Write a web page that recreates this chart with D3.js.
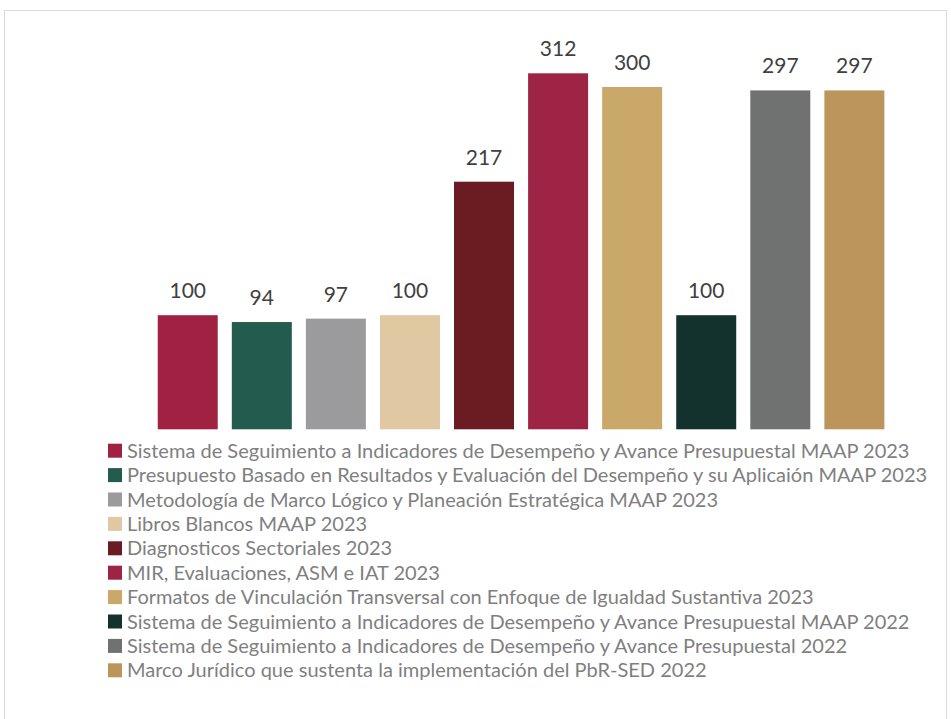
<!DOCTYPE html>
<html><head><meta charset="utf-8">
<script src="https://cdn.jsdelivr.net/npm/d3@7"></script>
<style>body{margin:0;background:#fff;}svg{display:block;}</style>
</head><body>
<script>
const categories = [
  "Sistema de Seguimiento a Indicadores de Desempeño y Avance Presupuestal MAAP 2023",
  "Presupuesto Basado en Resultados y Evaluación del Desempeño y su Aplicaión MAAP 2023",
  "Metodología de Marco Lógico y Planeación Estratégica MAAP 2023",
  "Libros Blancos MAAP 2023",
  "Diagnosticos Sectoriales 2023",
  "MIR, Evaluaciones, ASM e IAT 2023",
  "Formatos de Vinculación Transversal con Enfoque de Igualdad Sustantiva 2023",
  "Sistema de Seguimiento a Indicadores de Desempeño y Avance Presupuestal MAAP 2022",
  "Sistema de Seguimiento a Indicadores de Desempeño y Avance Presupuestal 2022",
  "Marco Jurídico que sustenta la implementación del PbR-SED 2022"
];
const values = [100, 94, 97, 100, 217, 312, 300, 100, 297, 297];
const colors = ["#A02142","#235B4E","#9B9B9D","#DFC8A2","#6A1C22","#9D2445","#C9A86A","#13322E","#6F7271","#BC955C"];

const W = 951, H = 719;
const svg = d3.select("body").append("svg").attr("width", W).attr("height", H);
svg.append("rect").attr("x", 4.5).attr("y", 10.5).attr("width", 942).attr("height", 740)
  .attr("fill", "#fff").attr("stroke", "#d9d9d9").attr("stroke-width", 1);

const font = "'Source Sans Pro', Lato, 'Open Sans', sans-serif";
const x = d3.scaleBand().domain(d3.range(values.length)).range([150.7, 891.4])
  .paddingInner(0.19).paddingOuter(0.095);
const y = d3.scaleLinear().domain([0, 312]).range([429.3, 73.3]);

svg.selectAll("rect.bar").data(values).join("rect").attr("class", "bar")
  .attr("x", (d, i) => x(i)).attr("width", x.bandwidth())
  .attr("y", d => y(d)).attr("height", d => y(0) - y(d))
  .attr("fill", (d, i) => colors[i]);

svg.selectAll("text.val").data(values).join("text").attr("class", "val")
  .attr("x", (d, i) => x(i) + x.bandwidth() / 2).attr("y", d => y(d) - 17)
  .attr("text-anchor", "middle").attr("font-family", font).attr("font-size", 21)
  .attr("fill", "#404040").text(d => d);

const lg = svg.append("g");
const rowH = 24.4, y0 = 450.7;
categories.forEach((c, i) => {
  lg.append("rect").attr("x", 108).attr("y", y0 + i * rowH - 7).attr("width", 14).attr("height", 14)
    .attr("fill", colors[i]);
  lg.append("text").attr("class", "lt").attr("x", 127).attr("y", y0 + i * rowH).attr("dy", "0.35em")
    .attr("font-family", font).attr("font-size", 19).attr("fill", "#7f7f7f").text(c);
});
// fit legend font size so that the longest row spans like the reference
const texts = lg.selectAll("text.lt");
let maxW = 0; texts.each(function(){ maxW = Math.max(maxW, this.getComputedTextLength()); });
const fs = 19 * 801 / maxW;
texts.attr("font-size", fs);
</script>
</body></html>
